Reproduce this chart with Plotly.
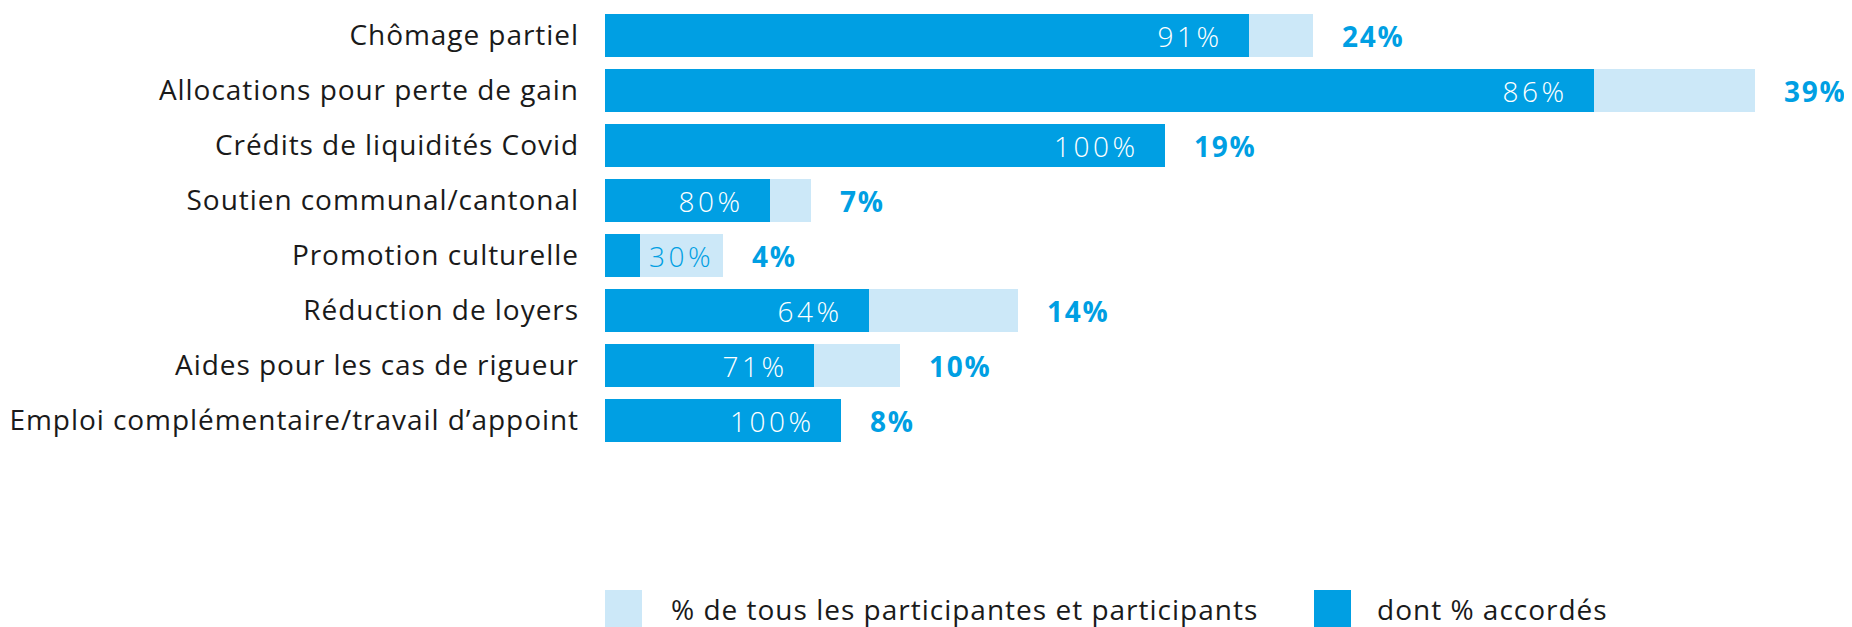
import plotly.graph_objects as go

# Données
categories = [
    "Chômage partiel",
    "Allocations pour perte de gain",
    "Crédits de liquidités Covid",
    "Soutien communal/cantonal",
    "Promotion culturelle",
    "Réduction de loyers",
    "Aides pour les cas de rigueur",
    "Emploi complémentaire/travail d’appoint",
]
total_pct = [24, 39, 19, 7, 4, 14, 10, 8]          # % de tous les participants
accorde_pct = [91, 86, 100, 80, 30, 64, 71, 100]    # dont % accordés

accorde_val = [t * a / 100 for t, a in zip(total_pct, accorde_pct)]

DARK = "#009FE3"
LIGHT = "#CCE8F8"
TXT = "#1a1a1a"
FONT = "Open Sans"
FS = 28

# la page html a une marge de 8px autour de la figure
W, H = 1844, 619
L, T, B = 597, 0, 179
PH = H - T - B  # hauteur de la zone de tracé

fig = go.Figure()

fig.add_trace(go.Bar(
    y=categories, x=total_pct, orientation="h",
    marker=dict(color=LIGHT, line=dict(width=0)),
    width=0.78, name="% de tous les participantes et participants",
    showlegend=False, hoverinfo="skip",
))
fig.add_trace(go.Bar(
    y=categories, x=accorde_val, orientation="h",
    marker=dict(color=DARK, line=dict(width=0)),
    width=0.78, name="dont % accordés",
    showlegend=False, hoverinfo="skip",
))

# Étiquettes des barres
for cat, t, a, v in zip(categories, total_pct, accorde_pct, accorde_val):
    fig.add_annotation(
        x=t, y=cat, text=f"{t}%", showarrow=False,
        xanchor="left", align="left", xshift=27,
        font=dict(family=FONT, size=FS, color=DARK, weight="bold"),
    )
    if v > 3:
        fig.add_annotation(
            x=v, y=cat, text=f"{a}%", showarrow=False,
            xanchor="right", align="right", xshift=-24,
            font=dict(family=FONT, size=FS, color="white", weight=300),
        )
    else:
        fig.add_annotation(
            x=v, y=cat, text=f"{a}%", showarrow=False,
            xanchor="left", align="left", xshift=7,
            font=dict(family=FONT, size=FS, color=DARK, weight=300),
        )

# Légende manuelle (carrés + texte), positions en pixels de la figure
legende = [
    (LIGHT, "% de tous les participantes et participants", 597, 661),
    (DARK, "dont % accordés", 1306, 1367),
]


def py(pix):
    return (T + PH - pix) / PH


def px(pix):
    return (pix - L) / (W - L)


for col, txt, x0, xt in legende:
    fig.add_shape(
        type="rect", xref="paper", yref="paper",
        x0=px(x0), x1=px(x0 + 37),
        y0=py(620), y1=py(582),
        fillcolor=col, line=dict(width=0), layer="above",
    )
    fig.add_annotation(
        xref="paper", yref="paper",
        x=px(xt), y=py(601),
        text=txt, showarrow=False, xanchor="left", yanchor="middle", align="left",
        font=dict(family=FONT, size=FS, color=TXT, weight="normal"),
    )

fig.update_layout(
    width=W, height=H,
    barmode="overlay",
    bargap=0,
    margin=dict(l=L, r=0, t=T, b=B, autoexpand=False),
    paper_bgcolor="white",
    plot_bgcolor="white",
    font=dict(family=FONT, size=FS, color=TXT),
    xaxis=dict(range=[0, 42.3], visible=False, fixedrange=True),
    yaxis=dict(
        autorange="reversed", showgrid=False, zeroline=False,
        showline=False, ticks="", ticklabelstandoff=25, automargin=False,
        tickfont=dict(family=FONT, size=FS, color=TXT),
        fixedrange=True,
    ),
)

# espacement des lettres comme dans l'original
espacement = """
var gd = document.getElementById('{plot_id}');
function espacer() {
  gd.querySelectorAll('.ytick text').forEach(function (e) {
    e.style.letterSpacing = '0.95px';
  });
  gd.querySelectorAll('.annotation-text').forEach(function (e) {
    var w = e.style.fontWeight;
    if (w === '300') { e.style.letterSpacing = '3.5px'; }
    else if (w === 'bold' || w === '700') { e.style.letterSpacing = '1.7px'; }
    else { e.style.letterSpacing = '1.0px'; }
  });
}
espacer();
gd.on('plotly_afterplot', espacer);
"""

fig.write_html("out.html", post_script=espacement)
